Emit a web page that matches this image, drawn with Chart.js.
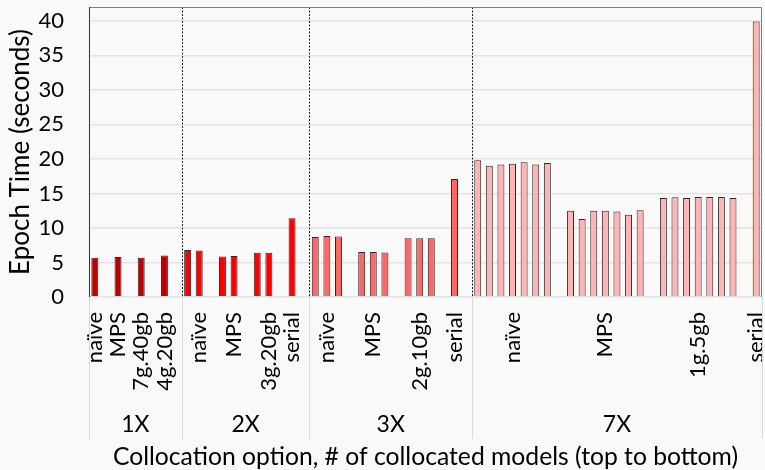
<!DOCTYPE html>
<html>
<head>
<meta charset="utf-8">
<script src="https://cdn.jsdelivr.net/npm/chart.js@4/dist/chart.umd.min.js"></script>
<style>
  html, body { margin: 0; padding: 0; background: #f9f9f9; }
  #wrap { width: 765px; height: 470px; }
</style>
</head>
<body>
<div id="wrap"><canvas id="chart" width="765" height="470"></canvas></div>
<script>
// Collocation groups (number of collocated models) and the options tried in each
const groupNames = ['1X', '2X', '3X', '7X'];
const optionNames = [
  ['naïve', 'MPS', '7g.40gb', '4g.20gb'],
  ['naïve', 'MPS', '3g.20gb', 'serial'],
  ['naïve', 'MPS', '2g.10gb', 'serial'],
  ['naïve', 'MPS', '1g.5gb', 'serial']
];

// Epoch time (seconds) of each collocated model, per option
const epoch1X = [[5.7], [5.8], [5.7], [6.0]];
const epoch2X = [[6.8, 6.75], [5.85, 5.95], [6.4, 6.4], [11.4]];
const epoch3X = [[8.7, 8.85, 8.75], [6.5, 6.5, 6.45], [8.5, 8.5, 8.5], [17.1]];
const epoch7X = [
  [19.8, 19.0, 19.2, 19.3, 19.5, 19.2, 19.4],
  [12.5, 11.3, 12.5, 12.5, 12.4, 11.9, 12.55],
  [14.35, 14.45, 14.35, 14.5, 14.5, 14.5, 14.35],
  [39.9]
];
const epochByGroup = [epoch1X, epoch2X, epoch3X, epoch7X];

// Y axis ticks
const yTicks = [0, 5, 10, 15, 20, 25, 30, 35, 40];

const groupColors = ['#c00000', '#ff0000', '#ff6666', '#ffb3b3'];
const FONT = 'Lato, "Open Sans", sans-serif';

// Flatten into one category slot per bar, with an empty slot after each option
const slotLabels = [];
const slotValues = [];
const slotColors = [];
const groupEdges = [0];
epochByGroup.forEach((group, g) => {
  group.forEach((bars, o) => {
    bars.forEach((v, i) => {
      slotLabels.push(i === Math.floor(bars.length / 2) ? optionNames[g][o] : '');
      slotValues.push(v);
      slotColors.push(groupColors[g]);
    });
    const lastOption = g === epochByGroup.length - 1 && o === group.length - 1;
    if (!lastOption) {
      slotLabels.push('');
      slotValues.push(null);
      slotColors.push(groupColors[g]);
    }
  });
  groupEdges.push(slotLabels.length);
});

const decorations = {
  id: 'decorations',
  beforeDraw(chart) {
    const c = chart.ctx;
    c.save();
    c.fillStyle = '#f9f9f9';
    c.fillRect(0, 0, chart.width, chart.height);
    c.restore();
  },
  afterDatasetsDraw(chart) {
    const c = chart.ctx;
    const xs = chart.scales.x;
    const area = chart.chartArea;
    const edgeX = k => xs.getPixelForValue(k - 0.5);
    c.save();
    // dashed separators between collocation groups
    c.strokeStyle = '#222';
    c.lineWidth = 1;
    c.setLineDash([2, 1.5]);
    for (let i = 1; i < groupEdges.length - 1; i++) {
      const x = Math.round(edgeX(groupEdges[i])) + 0.5;
      c.beginPath();
      c.moveTo(x, area.top);
      c.lineTo(x, area.bottom);
      c.stroke();
    }
    c.setLineDash([]);
    // plot frame
    c.strokeStyle = '#808080';
    c.beginPath();
    c.moveTo(area.left, area.top + 0.5);
    c.lineTo(area.right - 0.5, area.top + 0.5);
    c.lineTo(area.right - 0.5, area.bottom);
    c.stroke();
    c.strokeStyle = '#333';
    c.beginPath();
    c.moveTo(area.left + 0.5, area.top);
    c.lineTo(area.left + 0.5, area.bottom);
    c.stroke();
    // group divisions under the axis
    c.strokeStyle = '#d9d9d9';
    groupEdges.forEach(k => {
      let x = Math.round(edgeX(k)) + 0.5;
      if (k === slotLabels.length) x = area.right + 0.5;
      c.beginPath();
      c.moveTo(x, area.bottom);
      c.lineTo(x, 439);
      c.stroke();
    });
    // group names
    c.fillStyle = '#000';
    c.font = '23px ' + FONT;
    c.textAlign = 'center';
    c.textBaseline = 'middle';
    groupNames.forEach((name, g) => {
      const mid = (edgeX(groupEdges[g]) + edgeX(groupEdges[g + 1])) / 2;
      c.fillText(name, mid, 425);
    });
    c.restore();
  }
};

new Chart(document.getElementById('chart'), {
  type: 'bar',
  data: {
    labels: slotLabels,
    datasets: [{
      data: slotValues,
      backgroundColor: slotColors,
      borderColor: '#2a2a2a',
      borderWidth: 1,
      barPercentage: 0.6,
      categoryPercentage: 1
    }]
  },
  options: {
    responsive: false,
    animation: false,
    layout: { padding: { top: 7, right: 3, left: 0, bottom: 0 } },
    plugins: { legend: { display: false }, tooltip: { enabled: false } },
    scales: {
      x: {
        grid: { display: false, drawTicks: false },
        border: { display: false },
        ticks: {
          autoSkip: false, minRotation: 90, maxRotation: 90, padding: 15,
          color: '#000', font: { family: FONT, size: 22 }
        },
        title: {
          display: true, text: 'Collocation option, # of collocated models (top to bottom)',
          color: '#000', font: { family: FONT, size: 24.7, lineHeight: 1.05 }, padding: 0
        },
        afterFit(s) { s.height = 173; s.paddingLeft = 0; s.paddingRight = 0; }
      },
      y: {
        min: 0, max: 42,
        afterBuildTicks(s) { s.ticks = yTicks.map(v => ({ value: v })); },
        grid: { color: '#e3e3e3', lineWidth: 1.5, drawTicks: false },
        border: { display: false },
        ticks: { padding: 25, color: '#000', font: { family: FONT, size: 22 } },
        title: {
          display: true, text: 'Epoch Time (seconds)',
          color: '#000', font: { family: FONT, size: 26, lineHeight: 1.2 }, padding: { top: 5, bottom: 0 }
        },
        afterFit(s) { s.width = 89; s.paddingTop = 0; s.paddingBottom = 0; }
      }
    }
  },
  plugins: [decorations]
});
</script>
</body>
</html>
